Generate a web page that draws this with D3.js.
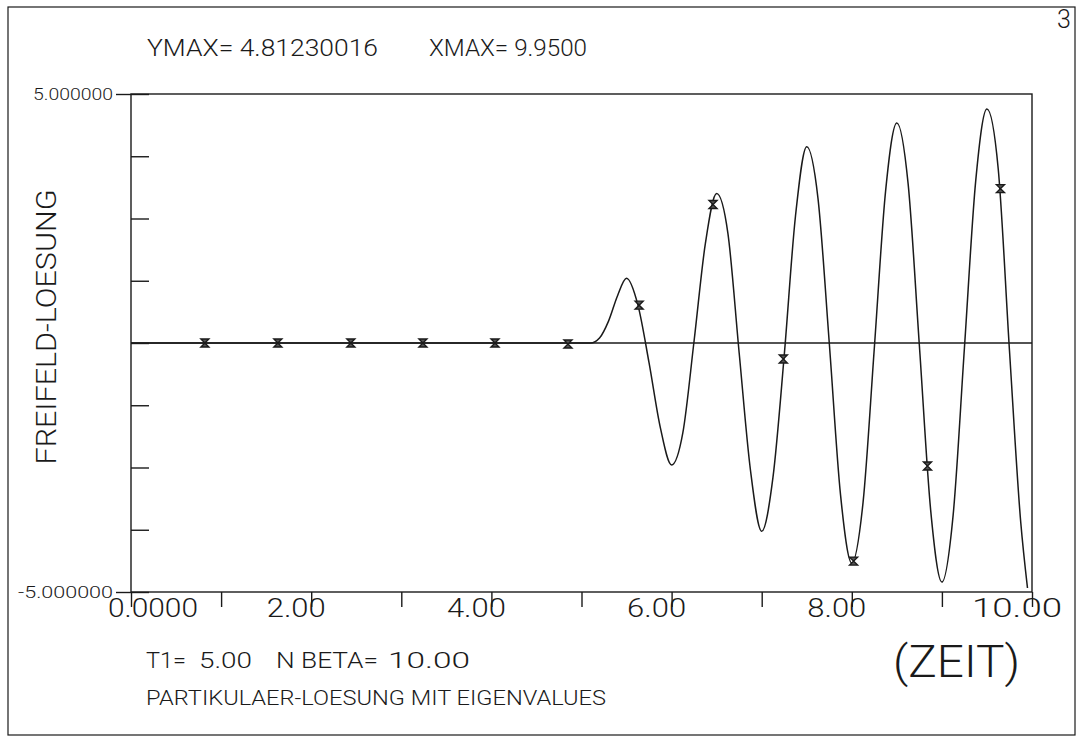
<!DOCTYPE html>
<html><head><meta charset="utf-8">
<script src="https://cdn.jsdelivr.net/npm/d3@7"></script>
<style>
body{margin:0;background:#fff}
text{font-family:Roboto,"DejaVu Sans",sans-serif;font-weight:300;fill:#1a1a1a}
</style>
</head><body>
<svg id="c" width="1081" height="748"></svg>
<script>
// ---- data ----
const xTickValues = [0,1,2,3,4,5,6,7,8,9,10];
const xLabelValues = [0,2,4,6,8,10];
const xLabels = ["0.0000","2.00","4.00","6.00","8.00","10.00"];
const yTickValues = [-5,-3.75,-2.5,-1.25,0,1.25,2.5,3.75,5];
const yLabelValues = [5,-5];
const yLabels = ["5.000000","-5.000000"];
const curveT = [0,5.0,5.1,5.2,5.3,5.4,5.5,5.625,5.75,5.875,6.0,6.125,6.25,6.375,6.5,6.625,6.75,6.875,7.0,7.125,7.25,7.375,7.5,7.625,7.75,7.875,8.0,8.125,8.25,8.375,8.5,8.625,8.75,8.875,9.0,9.125,9.25,9.375,9.5,9.625,9.75,9.875,9.95];
const curveY = [0,0,0.0,0.1,0.44,0.95,1.3,0.77,-0.4,-1.7,-2.45,-1.8,0.05,2.0,3.0,2.2,-0.2,-2.55,-3.78,-2.7,-0.25,2.55,3.94,2.9,0.0,-3.05,-4.42,-3.2,-0.1,3.05,4.42,3.2,-0.05,-3.35,-4.8,-3.45,-0.1,3.25,4.7,3.5,-0.15,-3.6,-4.92];
const markerT = [0.82,1.63,2.44,3.24,4.04,4.85,5.64,6.46,7.24,8.02,8.84,9.65];
const markerY = [0,0,0,0,0,-0.02,0.76,2.78,-0.32,-4.38,-2.47,3.1];
const headerTexts = ["YMAX= 4.81230016","XMAX= 9.9500"];
const pageNumber = "3";
const yTitle = "FREIFELD-LOESUNG";
const xTitle = "(ZEIT)";
const paramParts = ["T1=","5.00","N BETA=","10.00"];
const subtitle = "PARTIKULAER-LOESUNG MIT EIGENVALUES";

// ---- drawing ----
const svg = d3.select("#c");
const ink = "#1a1a1a";
const x = d3.scaleLinear().domain([0,10]).range([131,1032]);
const y = d3.scaleLinear().domain([-5,5]).range([592,94]);

// outer page frame
svg.append("rect").attr("x",8).attr("y",7).attr("width",1067).attr("height",728)
  .attr("fill","none").attr("stroke",ink).attr("stroke-width",1.2);

// plot box
svg.append("rect").attr("x",x(0)).attr("y",y(5)).attr("width",x(10)-x(0)).attr("height",y(-5)-y(5))
  .attr("fill","none").attr("stroke",ink).attr("stroke-width",1.4);

// zero line
svg.append("line").attr("x1",x(0)).attr("x2",x(10)).attr("y1",y(0)).attr("y2",y(0))
  .attr("stroke",ink).attr("stroke-width",1.4);

function styleAxis(g){
  g.select(".domain").remove();
  g.selectAll(".tick line").attr("stroke",ink).attr("stroke-width",1.4);
}
// x ticks
svg.append("g").attr("transform",`translate(0,${y(-5)})`)
  .call(d3.axisBottom(x).tickValues(xTickValues).tickSize(15).tickFormat(""))
  .call(styleAxis);
// inner y ticks
svg.append("g").attr("transform",`translate(${x(0)},0)`)
  .call(d3.axisRight(y).tickValues(yTickValues).tickSize(18).tickFormat(""))
  .call(styleAxis);
// outer labelled y ticks
const yl = svg.append("g").attr("transform",`translate(${x(0)},0)`)
  .call(d3.axisLeft(y).tickValues(yLabelValues).tickSize(15).tickPadding(3)
        .tickFormat((d,i)=>yLabels[i]))
  .call(styleAxis);
yl.attr("font-family",null).attr("font-size",null);
yl.selectAll(".tick text").style("font-size","17px").attr("fill",ink)
  .attr("dy","0.35em");
yl.selectAll(".tick text").each(function(d,i){
  d3.select(this).attr("textLength", i===0?80:95).attr("lengthAdjust","spacingAndGlyphs");
});

// x tick labels
svg.append("g").selectAll("text").data(xLabelValues).join("text")
  .attr("x",(d,i)=>x(d)+(i===0?22:-15))
  .attr("y",y(-5)+25)
  .attr("text-anchor","middle")
  .style("font-size","25px")
  .attr("textLength",(d,i)=>xLabels[i].length>=5?90:59)
  .attr("lengthAdjust","spacingAndGlyphs")
  .text((d,i)=>xLabels[i]);

// curve
const line = d3.line().x((d,i)=>x(curveT[i])).y((d,i)=>y(curveY[i])).curve(d3.curveMonotoneX);
svg.append("path").attr("d",line(curveT)).attr("fill","none").attr("stroke",ink).attr("stroke-width",1.5);

// markers (hourglass symbols)
const s = 4;
svg.append("g").selectAll("path").data(markerT).join("path")
  .attr("transform",(d,i)=>`translate(${x(d)},${y(markerY[i])})`)
  .attr("d",`M${-s},${-s}H${s}L${-s},${s}H${s}Z`)
  .attr("fill","#555").attr("stroke",ink).attr("stroke-width",1.4);

// header texts
svg.append("text").attr("x",147).attr("y",56).style("font-size","23px")
  .attr("textLength",231).attr("lengthAdjust","spacingAndGlyphs").attr("xml:space","preserve").text(headerTexts[0]);
svg.append("text").attr("x",429).attr("y",56).style("font-size","23px")
  .attr("textLength",158).attr("lengthAdjust","spacingAndGlyphs").attr("xml:space","preserve").text(headerTexts[1]);
svg.append("text").attr("x",1057).attr("y",28).style("font-size","25px").text(pageNumber);

// y title
svg.append("text").attr("transform","translate(56,327) rotate(-90)").attr("text-anchor","middle")
  .style("font-size","28px").attr("textLength",275).attr("lengthAdjust","spacingAndGlyphs").text(yTitle);

// x title
svg.append("text").attr("x",893).attr("y",677).style("font-size","44px")
  .attr("textLength",127).attr("lengthAdjust","spacingAndGlyphs").text(xTitle);

// parameter line
const px = [146,199,276,388], pw = [40,53,102,82];
paramParts.forEach((t,i)=>{
  svg.append("text").attr("x",px[i]).attr("y",668).style("font-size","22px")
    .attr("textLength",pw[i]).attr("lengthAdjust","spacingAndGlyphs").text(t);
});
svg.append("text").attr("x",146).attr("y",705).style("font-size","21px")
  .attr("textLength",460).attr("lengthAdjust","spacingAndGlyphs").text(subtitle);
</script>
</body></html>
